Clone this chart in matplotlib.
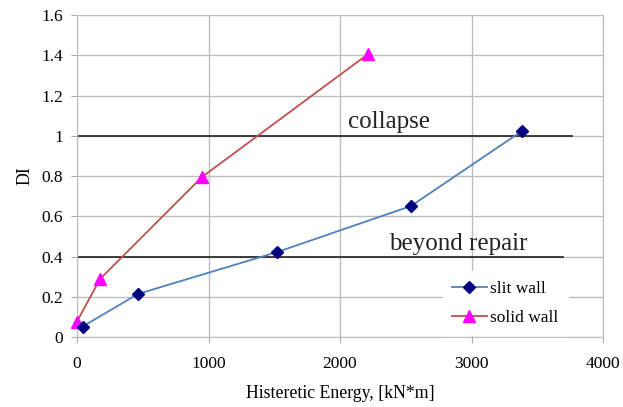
import numpy as np
import matplotlib.pyplot as plt

plt.rcParams['font.family'] = ['Liberation Serif', 'DejaVu Serif']

# data
slit_x = [43, 464, 1521, 2540, 3384]
slit_y = [0.052, 0.214, 0.422, 0.651, 1.024]
solid_x = [0, 175, 950, 2213]
solid_y = [0.077, 0.288, 0.795, 1.406]

limits = {"collapse": (1.0, 3760), "beyond repair": (0.4, 3695)}
xticks = [0, 1000, 2000, 3000, 4000]
yticks = [0, 0.2, 0.4, 0.6, 0.8, 1, 1.2, 1.4, 1.6]
ytick_labels = ["0", "0.2", "0.4", "0.6", "0.8", "1", "1.2", "1.4", "1.6"]

fig = plt.figure(figsize=(6.23, 4.07), dpi=100)
ax = fig.add_axes([0.1236, 0.172, 0.8444, 0.791])

for name, (yv, xend) in limits.items():
    ax.plot([0, xend], [yv, yv], color='#303030', lw=1.3, zorder=2)

ax.plot(slit_x, slit_y, '-D', color='#4F81BD', mfc='#000080', mec='#000080',
        ms=6, lw=1.3, label='slit wall', zorder=4, clip_on=False)
ax.plot(solid_x, solid_y, '-^', color='#C0504D', mfc='#FF00FF', mec='#FF00FF',
        ms=8, lw=1.3, label='solid wall', zorder=3, clip_on=False)

ax.text(2060, 1.04, 'collapse', fontsize=18, color='#222222')
ax.text(2370, 0.43, 'beyond repair', fontsize=18, color='#222222')

ax.set_xlim(0, 4000)
ax.set_ylim(0, 1.6)
ax.set_xticks(xticks)
ax.set_yticks(yticks)
ax.set_yticklabels(ytick_labels)
ax.tick_params(labelsize=12.5, length=4, color='#aaaaaa')
ax.tick_params(axis='x', pad=10)
ax.tick_params(axis='y', pad=6)
ax.grid(True, color='#bdbdbd', lw=1)
ax.set_axisbelow(True)
for s in ax.spines.values():
    s.set_color('#bdbdbd')

ax.set_xlabel('Histeretic Energy, [kN*m]', fontsize=12.8, labelpad=9)
ax.set_ylabel('DI', fontsize=12.8, labelpad=6)

leg = ax.legend(loc='lower right', bbox_to_anchor=(0.95, -0.022), fontsize=12.5,
                frameon=True, fancybox=False, handlelength=2.0, labelspacing=0.75,
                handletextpad=0.2, borderpad=0.55)
leg.get_frame().set_edgecolor('white')
leg.get_frame().set_alpha(1)

fig.savefig('out.png', dpi=100)
